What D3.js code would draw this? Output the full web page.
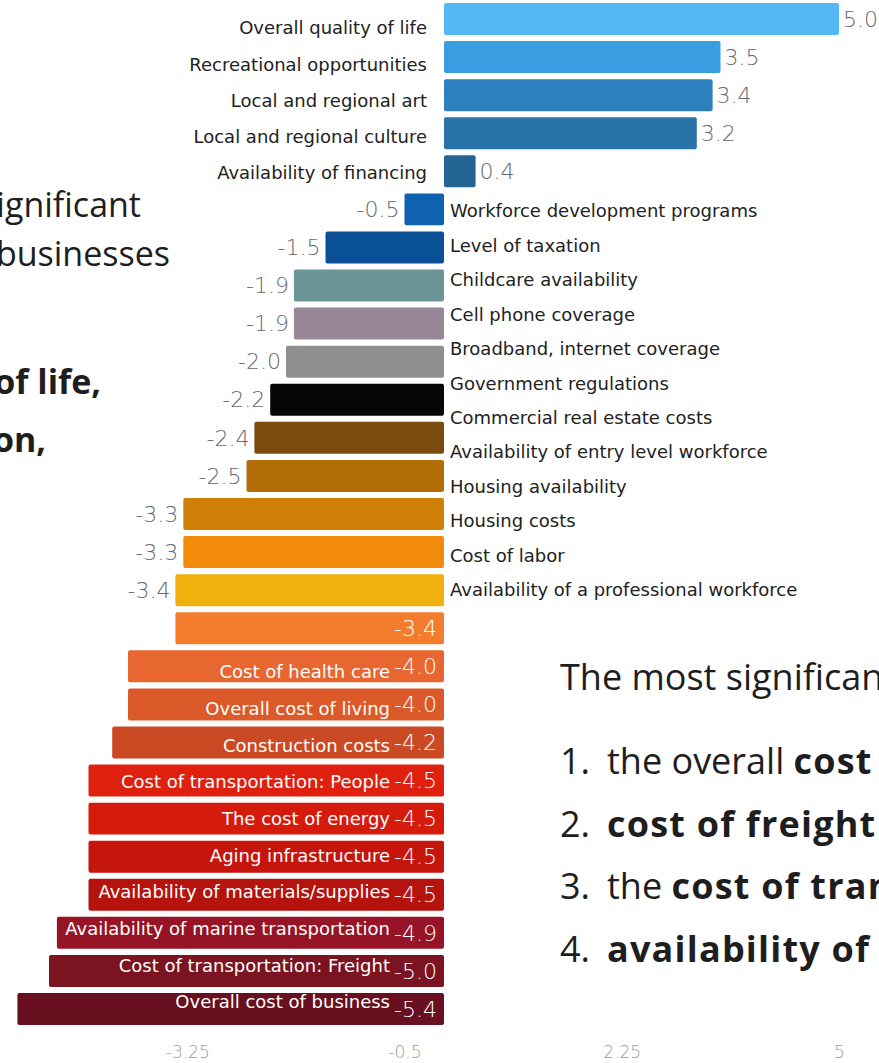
<!DOCTYPE html>
<html>
<head>
<meta charset="utf-8">
<script src="https://cdn.jsdelivr.net/npm/d3@7"></script>
<style>
  html, body { margin: 0; padding: 0; background: #fff; overflow: hidden; }
  svg { display: block; }
</style>
</head>
<body>
<svg id="chart" width="879" height="1063"></svg>
<script>
// Survey factors, ordered from most positive to most negative impact
const categories = [
  "Overall quality of life",
  "Recreational opportunities",
  "Local and regional art",
  "Local and regional culture",
  "Availability of financing",
  "Workforce development programs",
  "Level of taxation",
  "Childcare availability",
  "Cell phone coverage",
  "Broadband, internet coverage",
  "Government regulations",
  "Commercial real estate costs",
  "Availability of entry level workforce",
  "Housing availability",
  "Housing costs",
  "Cost of labor",
  "Availability of a professional workforce",
  "Cost of health care",
  "Overall cost of living",
  "Construction costs",
  "Cost of transportation: People",
  "The cost of energy",
  "Aging infrastructure",
  "Availability of materials/supplies",
  "Availability of marine transportation",
  "Cost of transportation: Freight",
  "Overall cost of business"
];

const values = [
  5.0, 3.5, 3.4, 3.2, 0.4,
  -0.5, -1.5, -1.9, -1.9, -2.0, -2.2, -2.4, -2.5, -3.3, -3.3, -3.4, -3.4,
  -4.0, -4.0, -4.2, -4.5, -4.5, -4.5, -4.5, -4.9, -5.0, -5.4
];

const barColors = [
  "#52b9f3", "#3a9de0", "#2e7fbd", "#2a73a9", "#236494",
  "#0f62ad", "#0a5097", "#6a9596", "#968696", "#8f8f8f", "#060606",
  "#7b4b0e", "#b46e09", "#cf8107", "#f28b0b", "#f0b00d", "#f47d2d",
  "#e8662f", "#dc5a29", "#cc4a23", "#e0200e", "#d51b0c", "#c5150c",
  "#b5130d", "#961425", "#7b1420", "#681020"
];

const tickValues = [-3.25, -0.5, 2.25, 5];

// Rows from this index on carry their value label inside the bar,
// and from the next one on the factor name sits inside the bar as well.
const insideValueFrom = 16;
const insideNameFrom = 17;

const svg = d3.select("#chart");

const x = d3.scaleLinear().domain([-6, 5]).range([-30, 839]);
const y = d3.scaleBand().domain(categories).range([3, 1025])
  .paddingInner(0.16).paddingOuter(0);

// Name labels follow their own vertical placement per block
const nameY = d3.scaleLinear()
  .domain([0, 4, 5, 16, 17, 26])
  .range([28, 173, 211, 590, 672, 1002]);

const fmt = d3.formatLocale({
  decimal: ".", thousands: ",", grouping: [3], currency: ["", ""], minus: "-"
}).format(".1f");

const rows = categories.map((name, i) => ({ name, value: values[i], color: barColors[i], i }));

const chart = svg.append("g");

const row = chart.selectAll("g.row").data(rows).join("g").attr("class", "row");

row.append("rect")
  .attr("x", d => x(Math.min(0, d.value)))
  .attr("y", d => y(d.name))
  .attr("width", d => Math.abs(x(d.value) - x(0)))
  .attr("height", y.bandwidth())
  .attr("rx", 2)
  .attr("fill", d => d.color);

// value labels
row.append("text")
  .attr("class", "val")
  .attr("x", d => d.i >= insideValueFrom ? x(0) - 7 : (d.value >= 0 ? x(d.value) + 4 : x(d.value) - 5))
  .attr("y", d => y(d.name) + y.bandwidth() / 2)
  .attr("dy", "0.35em")
  .attr("text-anchor", d => d.i >= insideValueFrom ? "end" : (d.value >= 0 ? "start" : "end"))
  .attr("fill", d => d.i >= insideValueFrom ? "#ffffff" : "#666a72")
  .style("font-family", "'DejaVu Sans', sans-serif")
  .style("font-weight", 300)
  .style("font-size", "22px")
  .text(d => fmt(d.value));

// factor names
row.append("text")
  .attr("class", "name")
  .attr("x", d => d.i >= insideNameFrom ? x(0) - 54 : (d.value >= 0 ? x(0) - 17 : x(0) + 6))
  .attr("y", d => nameY(d.i))
  .attr("dy", "0.35em")
  .attr("text-anchor", d => (d.i >= insideNameFrom || d.value >= 0) ? "end" : "start")
  .attr("fill", d => d.i >= insideNameFrom ? "#ffffff" : "#222222")
  .style("font-family", "'DejaVu Sans', sans-serif")
  .style("font-size", "18px")
  .text(d => d.name);

// bottom value axis
const axis = svg.append("g")
  .attr("transform", "translate(0,1043)")
  .call(d3.axisBottom(x).tickValues(tickValues).tickSize(0).tickPadding(3)
    .tickFormat(d3.format("")));
axis.select(".domain").remove();
axis.selectAll("text")
  .attr("fill", "#9a9a9a")
  .style("font-family", "'DejaVu Sans', sans-serif")
  .style("font-weight", 300)
  .style("font-size", "17px")
  .text(d => String(d).replace("−", "-"));

// slide text around the chart
const slideFont = "'Open Sans', 'Lato', sans-serif";
const left = svg.append("g").attr("fill", "#1e1e1e")
  .style("font-family", slideFont).style("font-size", "34px");
left.append("text").attr("x", 141).attr("y", 217).attr("text-anchor", "end").text("significant");
left.append("text").attr("x", 170).attr("y", 266).attr("text-anchor", "end").text("businesses");
left.append("text").attr("x", 101).attr("y", 394).attr("text-anchor", "end")
  .style("font-weight", 700).text("quality of life,");
left.append("text").attr("x", 46).attr("y", 452).attr("text-anchor", "end")
  .style("font-weight", 700).text("on,");

const right = svg.append("g").attr("fill", "#1e1e1e")
  .style("font-family", slideFont).style("font-size", "36px");
right.append("text").attr("x", 560).attr("y", 690).text("The most significant");

const listItems = [
  { n: "1.", parts: [["the overall ", 400], ["cost", 700]] },
  { n: "2.", parts: [["cost of freight", 700]] },
  { n: "3.", parts: [["the ", 400], ["cost of transportation", 700]] },
  { n: "4.", parts: [["availability of", 700]] }
];
const listY = d3.scalePoint().domain(d3.range(listItems.length)).range([774, 962]);
listItems.forEach((item, k) => {
  const t = right.append("text").attr("y", listY(k));
  t.append("tspan").attr("x", 560).text(item.n);
  item.parts.forEach((p, j) => {
    const s = t.append("tspan").style("font-weight", p[1]).text(p[0]);
    if (p[1] === 700) s.style("letter-spacing", "1.2px");
    if (j === 0) s.attr("x", 607);
  });
});
</script>
</body>
</html>
